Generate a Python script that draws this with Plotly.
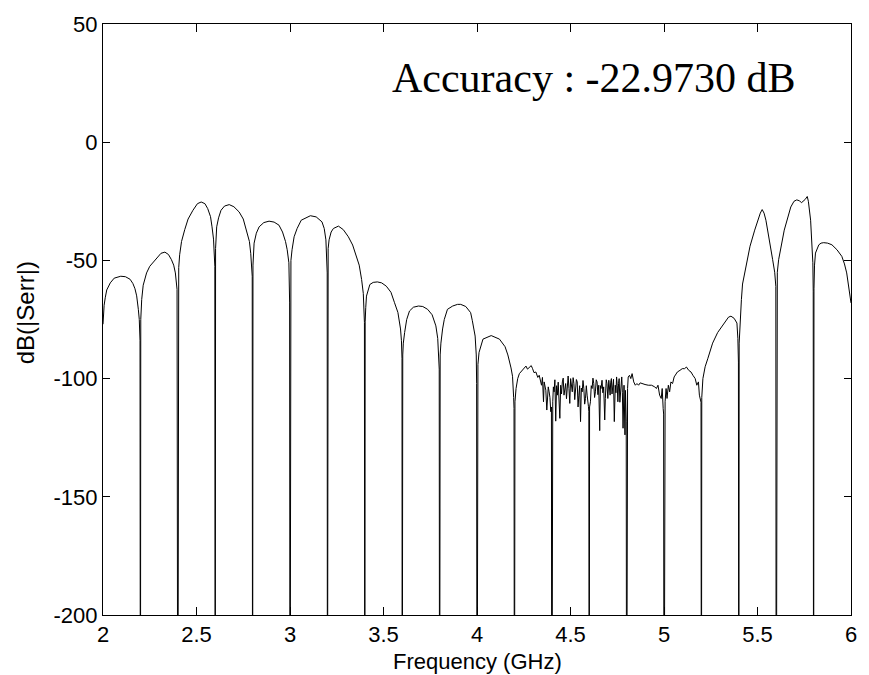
import plotly.graph_objects as go

# Frequency samples (GHz), one lobe per line, nulls at multiples of 0.2 GHz
freq_ghz = [
    2.000, 2.003, 2.006, 2.012, 2.020, 2.039, 2.060, 2.095, 2.120, 2.145, 2.160, 2.171, 2.180, 2.189, 2.194, 2.198, 2.2,
    2.202, 2.204, 2.207, 2.215, 2.233, 2.250, 2.286, 2.310, 2.331, 2.350, 2.366, 2.378, 2.387, 2.392, 2.396, 2.4,
    2.402, 2.405, 2.410, 2.420, 2.437, 2.455, 2.481, 2.505, 2.525, 2.545, 2.560, 2.575, 2.583, 2.591, 2.598, 2.6,
    2.602, 2.604, 2.608, 2.618, 2.631, 2.650, 2.675, 2.700, 2.728, 2.750, 2.773, 2.783, 2.790, 2.798, 2.8,
    2.802, 2.808, 2.820, 2.835, 2.860, 2.888, 2.915, 2.941, 2.960, 2.976, 2.985, 2.994, 2.998, 3.0,
    3.002, 3.005, 3.011, 3.022, 3.038, 3.060, 3.109, 3.140, 3.171, 3.183, 3.192, 3.196, 3.199, 3.2,
    3.202, 3.204, 3.209, 3.220, 3.232, 3.259, 3.285, 3.312, 3.335, 3.356, 3.370, 3.383, 3.392, 3.398, 3.4,
    3.402, 3.405, 3.409, 3.427, 3.445, 3.467, 3.490, 3.515, 3.540, 3.559, 3.577, 3.591, 3.596, 3.599, 3.6,
    3.603, 3.606, 3.613, 3.624, 3.639, 3.660, 3.687, 3.710, 3.736, 3.760, 3.780, 3.790, 3.798, 3.8,
    3.803, 3.807, 3.816, 3.825, 3.842, 3.870, 3.896, 3.913, 3.940, 3.966, 3.975, 3.990, 3.996, 3.998, 4.0,
    4.002, 4.005, 4.011, 4.032, 4.076, 4.120, 4.150, 4.165, 4.182, 4.190, 4.196, 4.198, 4.2,
    # 4.2 - 4.4
    4.203, 4.2088, 4.2177, 4.2265, 4.2442, 4.2619, 4.270, 4.2796, 4.290, 4.2972, 4.305, 4.3149, 4.325, 4.3326,
    4.340, 4.3450, 4.350, 4.3556, 4.3591, 4.365, 4.3680, 4.3733, 4.3768, 4.381, 4.3857, 4.390, 4.3945, 4.398, 4.4,
    # 4.4 - 4.6
    4.402, 4.4051, 4.4085, 4.4122, 4.4165, 4.4210, 4.4255, 4.4299, 4.4343, 4.4387, 4.443, 4.4476, 4.452, 4.4564,
    4.461, 4.4652, 4.4697, 4.4741, 4.4785, 4.4829, 4.4873, 4.4918, 4.4962, 4.5006, 4.505, 4.5095, 4.514, 4.5183,
    4.5227, 4.5271, 4.5315, 4.5360, 4.5404, 4.5448, 4.549, 4.5537, 4.558, 4.5625, 4.5669, 4.5713, 4.5758, 4.5802,
    4.5846, 4.5890, 4.593, 4.5961, 4.598, 4.6,
    # 4.6 - 4.8
    4.602, 4.6067, 4.611, 4.6156, 4.620, 4.6244, 4.6288, 4.6332, 4.6376, 4.6421, 4.6465, 4.6509, 4.6562, 4.6600,
    4.6633, 4.6686, 4.673, 4.6775, 4.6830, 4.6863, 4.691, 4.6951, 4.6997, 4.7048, 4.708, 4.7118, 4.715, 4.7187,
    4.722, 4.7256, 4.730, 4.7343, 4.7394, 4.743, 4.7464, 4.750, 4.7533, 4.757, 4.7602, 4.764, 4.7671, 4.771,
    4.7740, 4.7775, 4.7810, 4.7862, 4.7913, 4.794, 4.7965, 4.798, 4.8,
    # 4.8 - 5.0
    4.802, 4.8052, 4.8086, 4.8156, 4.8225, 4.8294, 4.8381, 4.8467, 4.8554, 4.8640, 4.8726, 4.8813, 4.8986, 4.9159,
    4.9332, 4.9505, 4.9592, 4.9678, 4.9765, 4.9851, 4.9903, 4.9955, 4.998, 5.0,
    # 5.0 - 5.2
    5.002, 5.0059, 5.0111, 5.0162, 5.0232, 5.0301, 5.0370, 5.0457, 5.0543, 5.0630, 5.0716, 5.0854, 5.0976, 5.1097,
    5.1200, 5.1322, 5.1443, 5.1546, 5.1668, 5.1754, 5.1841, 5.1892, 5.1927, 5.198, 5.2,
    5.202, 5.208, 5.220, 5.234, 5.260, 5.287, 5.320, 5.345, 5.358, 5.375, 5.390, 5.395, 5.398, 5.4,
    5.402, 5.405, 5.414, 5.420, 5.441, 5.460, 5.485, 5.505, 5.515, 5.525, 5.535, 5.545, 5.555, 5.570, 5.581, 5.592, 5.598, 5.6,
    5.602, 5.606, 5.613, 5.643, 5.678, 5.695, 5.710, 5.725, 5.735, 5.745, 5.755, 5.766, 5.772, 5.784, 5.792, 5.796, 5.798, 5.8,
    5.802, 5.805, 5.810, 5.828, 5.840, 5.854, 5.875, 5.898, 5.925, 5.951, 5.965, 5.977, 5.988, 6.000,
]

# dB(|Serr|) values matching freq_ghz (nulls fall far below the axis)
serr_db = [
    -77, -72, -69, -65.8, -62.5, -59.5, -57.5, -56.7, -56.9, -58, -59.8, -62, -65, -70.7, -75, -84, -300,
    -75, -70, -66.5, -60.5, -55.3, -52.5, -49, -47, -46.5, -47.5, -49.7, -52, -55.3, -58, -62.3, -300,
    -60, -53, -47.6, -42, -37, -32.5, -28.8, -26, -25.3, -26, -28.1, -31.5, -35.8, -41, -52.5, -300,
    -45, -40, -35.8, -32, -28.8, -27, -26.4, -27.3, -29.5, -32.5, -38.6, -42, -47, -56.7, -300,
    -52, -42.7, -38.5, -35.8, -34, -33.4, -33.8, -35.1, -38, -42, -45.5, -51, -68, -300,
    -55, -50, -45.5, -40, -36.5, -33, -31.1, -31.6, -33.7, -36.5, -41.3, -47, -55.3, -300,
    -50, -45, -41.3, -38, -36.5, -35.5, -37, -40, -43.5, -48.3, -52, -58.1, -64, -76.3, -300,
    -76, -70, -65.1, -60.2, -59.3, -59.1, -59.5, -60.9, -63.5, -67.9, -72, -79, -84, -91.6, -300,
    -90, -85, -80.5, -75, -71.4, -69.8, -69.3, -69.5, -70.7, -73, -77.7, -83, -96, -300,
    -90, -85, -79, -75, -70.7, -69.3, -68.6, -68.6, -69.5, -72.1, -75.5, -82, -90, -102, -300,
    -100, -94, -88.9, -83.3, -81.8, -83.3, -86.5, -90, -95.5, -99, -108, -112.6, -300,
    # 4.2 - 4.4
    -109.8, -104.2, -100.0, -97.9, -96.5, -94.7, -96.0, -95.1, -94.5, -95.8, -97.5, -97.2, -99.5, -98.6,
    -101.0, -102.8, -99.5, -109.8, -101.4, -103.0, -104.9, -113.3, -109.8, -103.5, -105.6, -108.0, -114.0, -112.0, -300,
    # 4.4 - 4.6
    -112.0, -109.8, -103.5, -105.6, -100.5, -118.0, -103.0, -107.0, -101.5, -111.2, -116.8, -102.8, -106.5, -101.4,
    -99.8, -107.0, -103.5, -102.1, -108.5, -100.7, -98.9, -104.2, -110.5, -100.0, -103.0, -105.6, -99.6, -102.1,
    -108.9, -104.2, -100.4, -101.4, -112.0, -107.0, -103.0, -118.2, -104.0, -105.6, -100.8, -104.2, -110.8, -108.4,
    -103.0, -107.0, -109.0, -111.9, -114.0, -300,
    # 4.6 - 4.8
    -112.0, -109.8, -103.0, -104.2, -99.8, -102.1, -108.0, -105.6, -100.5, -101.4, -106.8, -102.8, -122.0, -103.0,
    -104.2, -100.7, -106.0, -103.5, -117.5, -108.4, -100.5, -102.1, -108.4, -100.7, -104.5, -107.0, -101.5, -100.0,
    -106.5, -104.2, -100.3, -118.2, -102.8, -106.0, -99.3, -103.0, -109.8, -102.0, -100.0, -110.0, -105.6, -101.0,
    -99.3, -106.0, -121.0, -102.8, -123.8, -105.0, -116.8, -118.0, -300,
    # 4.8 - 5.0
    -110.0, -104.2, -99.3, -98.6, -100.0, -97.9, -101.4, -102.8, -102.1, -102.8, -101.8, -102.1, -102.5, -102.8,
    -102.8, -103.5, -104.2, -102.8, -107.0, -108.4, -104.2, -112.6, -115.0, -300,
    # 5.0 - 5.2
    -112.0, -109.8, -104.2, -108.4, -102.8, -105.6, -101.4, -102.1, -99.3, -97.9, -97.2, -96.5, -95.8, -95.8,
    -95.1, -96.5, -97.2, -98.6, -100.0, -102.8, -101.4, -107.0, -109.1, -110.0, -300,
    -108, -100, -95, -91.6, -85, -80.5, -76.5, -74, -73.6, -74.5, -76.5, -83, -93, -300,
    -85, -78, -66.5, -60, -51.1, -44, -37.2, -32, -30, -28.5, -30, -33, -37.2, -44, -49.7, -55, -61, -300,
    -62, -55, -49.7, -37.2, -27.4, -25, -24.4, -24.8, -25.6, -24.9, -24.2, -22.97, -25, -33, -45, -51, -63, -300,
    -62, -52, -46.9, -43.4, -42.7, -42.5, -42.7, -43.4, -45.5, -48.3, -51.5, -55.3, -61, -68,
]

x_ticks = [2, 2.5, 3, 3.5, 4, 4.5, 5, 5.5, 6]
x_tick_text = ["2", "2.5", "3", "3.5", "4", "4.5", "5", "5.5", "6"]
y_ticks = [-200, -150, -100, -50, 0, 50]
y_tick_text = ["-200", "-150", "-100", "-50", "0", "50"]

accuracy_text = "Accuracy : -22.9730 dB"
x_title = "Frequency (GHz)"
y_title = "dB(|Serr|)"

fig = go.Figure()
fig.add_trace(go.Scatter(
    x=freq_ghz, y=serr_db, mode="lines",
    line=dict(color="black", width=1),
    showlegend=False, hoverinfo="skip",
))

axis_common = dict(
    showline=True, linecolor="black", linewidth=1, mirror="allticks",
    ticks="inside", tickcolor="black", tickwidth=1,
    showgrid=False, zeroline=False,
    tickfont=dict(family="Liberation Sans, Arial", size=22, color="black"),
)

fig.update_layout(
    width=869, height=675,
    margin=dict(l=103, r=12, t=19, b=60),
    paper_bgcolor="white", plot_bgcolor="white",
    xaxis=dict(range=[2, 6], tickvals=x_ticks, ticktext=x_tick_text, ticklen=8, **axis_common),
    yaxis=dict(range=[-200, 50], tickvals=y_ticks, ticktext=y_tick_text, ticklen=7, **axis_common),
    annotations=[
        dict(text=accuracy_text, x=4.626, y=27.3, xref="x", yref="y", showarrow=False,
             xanchor="center", yanchor="middle",
             font=dict(family="Liberation Serif, Times New Roman", size=42, color="black")),
        dict(text=x_title, x=0.5, y=-0.0545, xref="paper", yref="paper", showarrow=False,
             xanchor="center", yanchor="top",
             font=dict(family="Liberation Sans, Arial", size=22, color="black")),
        dict(text=y_title, x=-0.1034, y=0.5117, xref="paper", yref="paper", showarrow=False,
             xanchor="center", yanchor="middle", textangle=-90,
             font=dict(family="Liberation Sans, Arial", size=24, color="black")),
    ],
)

fig.write_html("out.html")
